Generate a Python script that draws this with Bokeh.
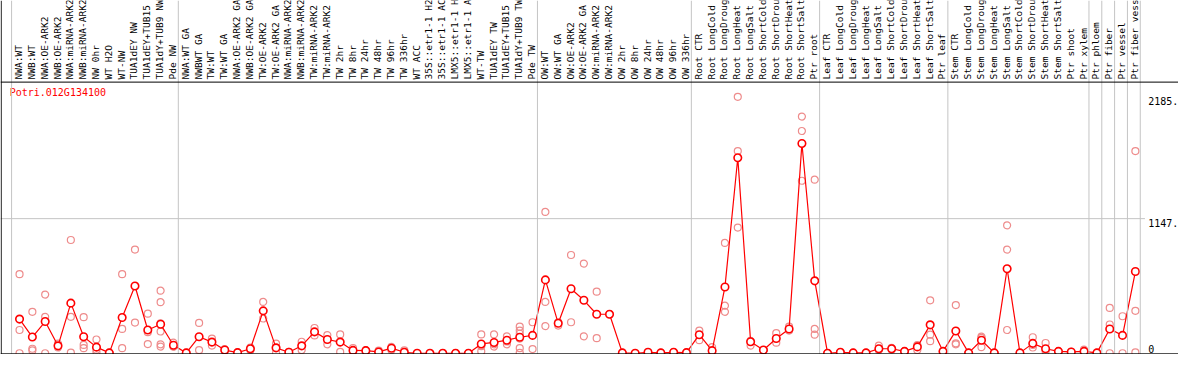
from math import pi
from bokeh.plotting import figure
from bokeh.models import Range1d, Span
from bokeh.core.properties import value
from bokeh.embed import file_html
from bokeh.resources import INLINE

gene = "Potri.012G134100"

categories = [
    "NWA:WT", "NWB:WT", "NWA:OE-ARK2", "NWB:OE-ARK2", "NWA:miRNA-ARK2", "NWB:miRNA-ARK2",
    "NW 0hr", "WT H2O", "WT-NW", "TUA1dEY NW", "TUA1dEY+TUB15 NW", "TUA1dY+TUB9 NW", "Pde NW",
    "NWA:WT GA", "NWBWT GA", "TW:WT", "TW:WT GA", "NWA:OE-ARK2 GA", "NWB:OE-ARK2 GA",
    "TW:OE-ARK2", "TW:OE-ARK2 GA", "NWA:miRNA-ARK2 GA", "NWB:miRNA-ARK2 GA", "TW:miRNA-ARK2",
    "TW:miRNA-ARK2 GA", "TW 2hr", "TW 8hr", "TW 24hr", "TW 48hr", "TW 96hr", "TW 336hr",
    "WT ACC", "35S::etr1-1 H2O", "35S::etr1-1 ACC", "LMX5::etr1-1 H2O", "LMX5::etr1-1 ACC",
    "WT-TW", "TUA1dEY TW", "TUA1dEY+TUB15 TW", "TUA1dY+TUB9 TW", "Pde TW",
    "OW:WT", "OW:WT GA", "OW:OE-ARK2", "OW:OE-ARK2 GA", "OW:miRNA-ARK2", "OW:miRNA-ARK2 GA",
    "OW 2hr", "OW 8hr", "OW 24hr", "OW 48hr", "OW 96hr", "OW 336hr",
    "Root CTR", "Root LongCold", "Root LongDrought", "Root LongHeat", "Root LongSalt",
    "Root ShortCold", "Root ShortDrought", "Root ShortHeat", "Root ShortSalt", "Ptr root",
    "Leaf CTR", "Leaf LongCold", "Leaf LongDrought", "Leaf LongHeat", "Leaf LongSalt",
    "Leaf ShortCold", "Leaf ShortDrought", "Leaf ShortHeat", "Leaf ShortSalt", "Ptr leaf",
    "Stem CTR", "Stem LongCold", "Stem LongDrought", "Stem LongHeat", "Stem LongSalt",
    "Stem ShortCold", "Stem ShortDrought", "Stem ShortHeat", "Stem ShortSalt", "Ptr shoot",
    "Ptr xylem", "Ptr phloem", "Ptr fiber", "Ptr vessel", "Ptr fiber vessel",
]

means = [
    291, 138, 270, 63, 427, 141, 52, 3, 304, 573, 198, 247, 68,
    3, 141, 95, 27, 5, 38, 361, 46, 8, 63, 182, 117, 95, 24, 22, 11, 43, 8,
    0, 0, 0, 0, 0, 79, 92, 111, 136, 152,
    625, 255, 549, 451, 332, 332, 3, 0, 8, 3, 8, 5,
    158, 22, 565, 1666, 98, 27, 125, 207, 1788, 617,
    0, 8, 3, 3, 38, 38, 16, 54, 242, 16,
    190, 3, 111, 3, 720, 3, 84, 38, 16, 11,
    16, 3, 207, 152, 696,
]

replicates = [
    [674, 198, 0], [353, 38, 24], [500, 310, 0], [82, 60, 49], [965, 310, 5], [307, 71, 43],
    [117, 30, 10], [5, 2, 0], [674, 207, 43], [883, 261], [337, 179, 78],
    [533, 435, 255, 185, 76, 57], [90, 57, 57],
    [5, 0], [258, 27], [125, 65], [35, 19], [8, 2], [49, 27], [437, 296], [82, 3], [11, 5],
    [98, 27], [215, 152], [155, 76], [160, 11], [43, 11], [27, 11], [22, 0], [54, 27], [24, 0],
    [0, 0], [0, 0], [0, 0], [0, 0], [0, 0], [160, 60, 16], [160, 76, 57], [144, 100, 76],
    [226, 193, 166, 125, 43, 3], [264, 35],
    [1204, 437, 231], [264, 236], [837, 264], [764, 144], [525, 128], [332], [3, 3], [0, 0],
    [8, 8], [3, 3], [8, 8], [5, 5],
    [193, 111], [52, 0], [940, 405, 353], [2185, 1723, 1071], [106, 65], [27, 27], [171, 90],
    [226, 193], [2017, 1894, 1470], [1479, 207, 158],
    [0, 0], [8, 8], [3, 3], [3, 3], [65, 27], [45, 30], [16, 16], [65, 27, 70],
    [451, 158, 103], [16, 16],
    [410, 84, 76], [3, 3], [141, 130, 52], [3, 3], [1090, 883, 198], [3, 3], [136, 49, 70],
    [87, 16], [16, 16], [11, 11],
    [30, 3], [3, 3], [386, 245, 0], [315, 0], [1723, 361, 8],
]

tick_values = [0, 1147, 2185]
tick_labels = ["0", "1147.", "2185."]

# first index of each block separated by a vertical grey rule
group_starts = [0, 13, 41, 53, 63, 73, 84, 85, 86, 87, 88]

# ---- layout (reference pixel geometry) ----
W, H = 1178, 354
PX = 13.0        # px per category in reference
X0 = 19.3        # x of first category in reference
Y0 = 368.67      # y of value 0 in reference
VPP = 8.154      # value per reference pixel


def yv(ref_y):
    return (Y0 - ref_y) * VPP


def xv(ref_x):
    return (ref_x - X0) / PX


n = len(categories)
xs = list(range(n))

p = figure(width=W, height=H, output_backend="svg", toolbar_location=None,
           x_range=Range1d(xv(0), xv(1194)), y_range=Range1d(yv(370), yv(0)),
           x_axis_location=None, y_axis_location=None,
           min_border=0, min_border_left=0, min_border_right=0,
           min_border_top=0, min_border_bottom=0)
p.outline_line_color = None
p.grid.visible = False
p.background_fill_color = "white"
p.border_fill_color = "white"

grey = "#c4c4c4"
for g in group_starts:
    p.add_layout(Span(location=g - 0.62, dimension="height", line_color=grey, line_width=1))

# horizontal grid at the middle tick
p.segment(x0=[xv(0)], x1=[xv(1160)], y0=[tick_values[1]], y1=[tick_values[1]],
          line_color=grey, line_width=1)

# frame lines
p.add_layout(Span(location=xv(0.7), dimension="height", line_color="black", line_width=1))
p.add_layout(Span(location=yv(85.3), dimension="width", line_color="black", line_width=1))
p.add_layout(Span(location=yv(369.3), dimension="width", line_color="black", line_width=1))

# category labels (vertical)
p.text(x=xs, y=[yv(82.5)] * n, text=categories, angle=pi / 2,
       text_align="left", text_baseline="middle", x_offset=-1,
       text_font=value("DejaVu Sans Mono"), text_font_size="9.5px", text_color="black")

# replicates
rx, ry = [], []
for i, reps in enumerate(replicates):
    for r in reps:
        rx.append(i)
        ry.append(r)
p.scatter(x=rx, y=ry, marker="circle", size=7, fill_color=None,
          line_color="#ee8c8c", line_width=1.2)

# mean profile
p.line(x=xs, y=means, line_color="red", line_width=1.2)
p.scatter(x=xs, y=means, marker="circle", size=7.5, fill_color="white",
          line_color="red", line_width=1.6)

# gene label
p.text(x=[xv(9.3)], y=[yv(96.5)], text=[gene], text_align="left", text_baseline="middle",
       text_font=value("DejaVu Sans Mono"), text_font_size="10px", text_color="red")

# right-hand value labels
p.text(x=[n] * 2, y=tick_values[1:], text=tick_labels[1:], text_align="left",
       text_baseline="top", text_font=value("DejaVu Sans Mono"), text_font_size="10px",
       text_color="black")
p.text(x=[n], y=tick_values[:1], text=tick_labels[:1], text_align="left",
       text_baseline="bottom", text_font=value("DejaVu Sans Mono"), text_font_size="10px",
       text_color="black")

open("out.html", "w").write(file_html(p, INLINE))
